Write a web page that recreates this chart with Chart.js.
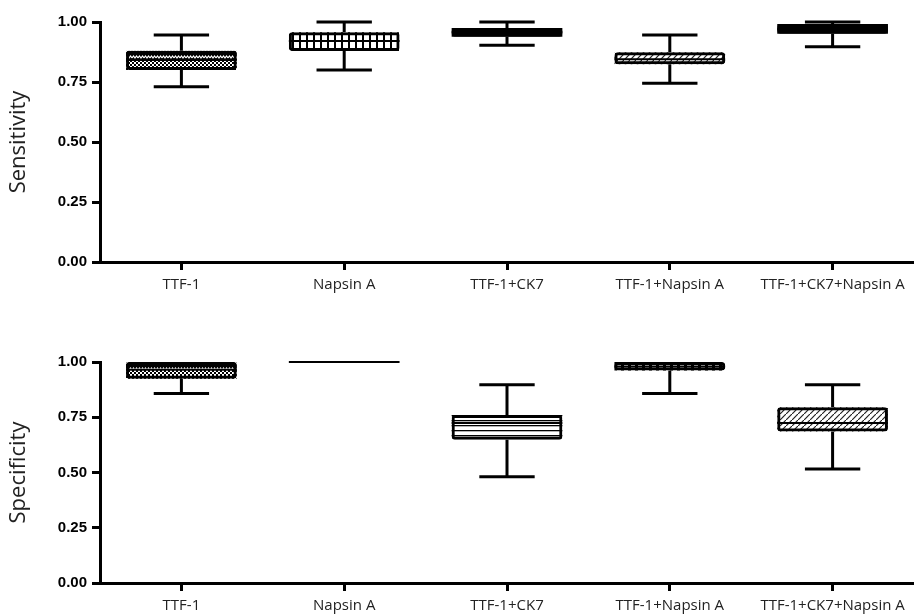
<!DOCTYPE html>
<html>
<head>
<meta charset="utf-8">
<script src="https://cdn.jsdelivr.net/npm/chart.js@4.4.0/dist/chart.umd.min.js"></script>
<style>
  html, body { margin: 0; padding: 0; background: #fff; }
  canvas { display: block; }
</style>
</head>
<body>
<canvas id="sensChart" width="914" height="300"></canvas>
<canvas id="specChart" width="914" height="315"></canvas>
<script>
// Categories shared by both panels
const categories = ['TTF-1', 'Napsin A', 'TTF-1+CK7', 'TTF-1+Napsin A', 'TTF-1+CK7+Napsin A'];

// Sensitivity box plot values (min, Q1, median, Q3, max)
const sensMin = [0.730, 0.800, 0.903, 0.745, 0.897];
const sensQ1  = [0.800, 0.879, 0.939, 0.824, 0.951];
const sensMed = [0.842, 0.921, 0.957, 0.845, 0.970];
const sensQ3  = [0.880, 0.957, 0.975, 0.874, 0.992];
const sensMax = [0.946, 1.000, 1.000, 0.946, 1.000];

// Specificity box plot values
const specMin = [0.858, 1.000, 0.481, 0.857, 0.516];
const specQ1  = [0.924, 1.000, 0.648, 0.961, 0.686];
const specMed = [0.965, 1.000, 0.724, 0.980, 0.724];
const specQ3  = [1.000, 1.000, 0.760, 1.000, 0.795];
const specMax = [1.000, 1.000, 0.897, 1.000, 0.897];

// Y tick values
const yTicks = [0, 0.25, 0.5, 0.75, 1];

// Fill styles for each box (upper half / lower half)
const sensUpperFill = ['wave', 'stripes', 'solid', 'hatch', 'solid'];
const sensLowerFill = ['dots', 'stripes', 'solid', 'hatch', 'solid'];
const specUpperFill = ['wave', 'solid', 'hlines', 'dashes', 'hatch'];
const specLowerFill = ['dots', 'solid', 'hlines', 'dashes', 'hatch'];

/** Builds a small repeating canvas pattern */
function makePattern(kind) {
  if (kind === 'solid') return '#000';
  const tile = document.createElement('canvas');
  const sizes = {wave: [6, 6], dots: [4, 4], stripes: [7, 1], dashes: [7, 1], hatch: [6, 6], hlines: [1, 5]};
  tile.width = sizes[kind][0];
  tile.height = sizes[kind][1];
  const c = tile.getContext('2d');
  if (kind === 'wave') {
    c.fillStyle = '#000'; c.fillRect(0, 0, 6, 6);
    c.strokeStyle = '#fff'; c.lineWidth = 1.2;
    c.beginPath(); c.moveTo(0, 4); c.lineTo(1.5, 2); c.lineTo(3, 4); c.lineTo(4.5, 2); c.lineTo(6, 4); c.stroke();
  } else if (kind === 'dots') {
    c.fillStyle = '#000'; c.fillRect(0, 0, 4, 4);
    c.fillStyle = '#fff'; c.fillRect(0, 0, 2, 2); c.fillRect(2, 2, 2, 2);
  } else if (kind === 'stripes') {
    c.fillStyle = '#fff'; c.fillRect(0, 0, 7, 1);
    c.fillStyle = '#000'; c.fillRect(5, 0, 2, 1);
  } else if (kind === 'dashes') {
    c.fillStyle = '#000'; c.fillRect(0, 0, 7, 1);
    c.fillStyle = '#fff'; c.fillRect(1, 0, 4, 1);
  } else if (kind === 'hatch') {
    c.fillStyle = '#fff'; c.fillRect(0, 0, 6, 6);
    c.strokeStyle = '#222'; c.lineWidth = 1.2;
    c.beginPath(); c.moveTo(-1, 7); c.lineTo(7, -1); c.stroke();
  } else if (kind === 'hlines') {
    c.fillStyle = '#fff'; c.fillRect(0, 0, 1, 5);
    c.fillStyle = '#000'; c.fillRect(0, 0, 1, 1.3);
  }
  return c.createPattern(tile, 'repeat');
}

/** Draws whiskers, caps and median lines from the scales */
const boxWhiskers = {
  id: 'boxWhiskers',
  afterDatasetsDraw(chart, args, opts) {
    const ctx = chart.ctx;
    const x = chart.scales.x;
    const y = chart.scales.y;
    const bars = chart.getDatasetMeta(0).data;
    ctx.save();
    ctx.strokeStyle = '#000';
    opts.med.forEach((m, i) => {
      const cx = x.getPixelForValue(i);
      const half = bars[i].width / 2;
      const cap = half / 2;
      ctx.lineWidth = 3;
      // Upper whisker
      if (opts.max[i] > opts.q3[i]) {
        const y3 = y.getPixelForValue(opts.q3[i]);
        const yMax = y.getPixelForValue(opts.max[i]);
        ctx.beginPath();
        ctx.moveTo(cx, y3); ctx.lineTo(cx, yMax);
        ctx.moveTo(cx - cap, yMax); ctx.lineTo(cx + cap, yMax);
        ctx.stroke();
      }
      // Lower whisker
      if (opts.min[i] < opts.q1[i]) {
        const y1 = y.getPixelForValue(opts.q1[i]);
        const yMin = y.getPixelForValue(opts.min[i]);
        ctx.beginPath();
        ctx.moveTo(cx, y1); ctx.lineTo(cx, yMin);
        ctx.moveTo(cx - cap, yMin); ctx.lineTo(cx + cap, yMin);
        ctx.stroke();
      }
      // Median
      const yMed = y.getPixelForValue(m);
      ctx.lineWidth = 2;
      ctx.beginPath();
      ctx.moveTo(cx - half, yMed); ctx.lineTo(cx + half, yMed);
      ctx.stroke();
    });
    ctx.restore();
  }
};

function buildChart(canvasId, title, stats, upperFill, lowerFill, topPad, xHeight) {
  const box = stats.q1.map((v, i) => [v, stats.q3[i]]);
  const upper = stats.med.map((v, i) => [v, stats.q3[i]]);
  const lower = stats.q1.map((v, i) => [v, stats.med[i]]);

  return new Chart(document.getElementById(canvasId), {
    type: 'bar',
    data: {
      labels: categories,
      datasets: [
        { // outline drawn on top
          data: box,
          backgroundColor: 'rgba(0,0,0,0)',
          borderColor: '#000',
          borderWidth: 3,
          borderRadius: 3,
          borderSkipped: false
        },
        {
          data: upper,
          backgroundColor: upperFill.map(makePattern),
          borderWidth: 0
        },
        {
          data: lower,
          backgroundColor: lowerFill.map(makePattern),
          borderWidth: 0
        }
      ]
    },
    options: {
      responsive: false,
      animation: false,
      layout: { padding: { top: topPad, left: 0, right: 0, bottom: 0 } },
      datasets: { bar: { grouped: false, barPercentage: 0.68, categoryPercentage: 1 } },
      plugins: {
        legend: { display: false },
        tooltip: { enabled: false },
        boxWhiskers: stats
      },
      scales: {
        x: {
          grid: { display: true, drawOnChartArea: false, offset: false, tickLength: 8, tickWidth: 3, tickColor: '#000' },
          border: { display: true, color: '#000', width: 3 },
          ticks: { color: '#222', font: { family: 'Open Sans', size: 15 }, padding: 6, maxRotation: 0, autoSkip: false },
          afterFit(scale) { scale.height = xHeight; }
        },
        y: {
          min: 0,
          max: 1,
          afterBuildTicks(scale) { scale.ticks = yTicks.map(v => ({ value: v })); },
          grid: { display: true, drawOnChartArea: false, tickLength: 8, tickWidth: 3, tickColor: '#000' },
          border: { display: true, color: '#000', width: 3 },
          ticks: {
            color: '#000',
            padding: 5,
            font: { family: 'Liberation Sans', size: 15, weight: 'bold' },
            callback: v => Number(v).toFixed(2)
          },
          title: { display: true, text: title, color: '#222', font: { family: 'Open Sans', size: 22 }, padding: { top: 6, bottom: 0 } },
          afterFit(scale) { scale.width = 100; }
        }
      }
    },
    plugins: [boxWhiskers]
  });
}

buildChart('sensChart', 'Sensitivity',
  { min: sensMin, q1: sensQ1, med: sensMed, q3: sensQ3, max: sensMax },
  sensUpperFill, sensLowerFill, 22, 38);

buildChart('specChart', 'Specificity',
  { min: specMin, q1: specQ1, med: specMed, q3: specQ3, max: specMax },
  specUpperFill, specLowerFill, 62, 32);
</script>
</body>
</html>
